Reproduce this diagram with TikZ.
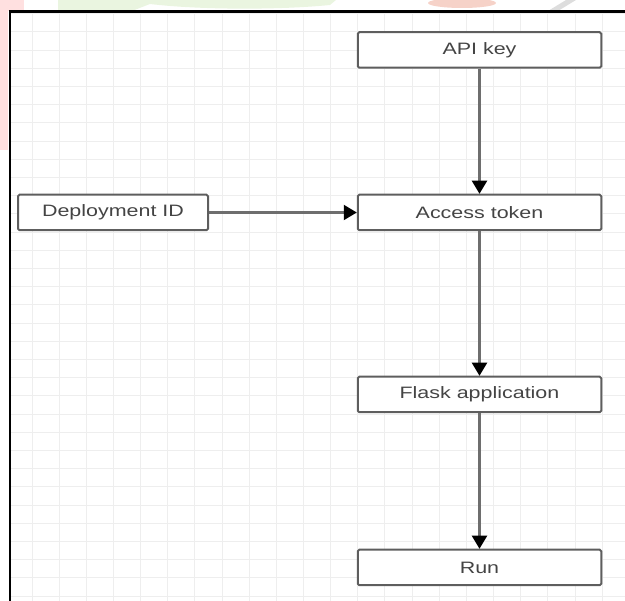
\documentclass[tikz,border=0pt]{standalone}
\usepackage{fontspec}
\setmainfont[FakeStretch=1.3]{Liberation Sans}
\usetikzlibrary{arrows.meta,positioning}
\definecolor{boxline}{HTML}{5E5E5E}
\definecolor{boxtext}{HTML}{444444}
\definecolor{linkline}{HTML}{6E6E6E}
\definecolor{gridline}{HTML}{EEEEEE}
\definecolor{wmred}{HTML}{FFE0E0}
\definecolor{wmgreen}{HTML}{EAF5E0}
\definecolor{wmsalmon}{HTML}{F6D2C8}
\definecolor{wmgray}{HTML}{DDDDDD}
\begin{document}
\begin{tikzpicture}
[x=1pt, y=1pt, node distance=162.5pt,
box/.style={draw=boxline, line width=2pt, rounded corners=1.5pt, fill=white,
  minimum width=243.5pt, minimum height=35.5pt, text=boxtext,
  font=\fontsize{16.5}{18}\selectfont},
link/.style={draw=linkline, line width=2.2pt,
  -{Triangle[width=15pt,length=13pt,color=black]}}]
\useasboundingbox (0,0) rectangle (625,-601);

% faint watermark above the frame
\fill[wmred] (0,0) rectangle (8,-150);
\fill[wmred] (0,0) rectangle (24,-11.5);
\fill[wmgreen] (58,0) -- (336,0) -- (330,-5) .. controls (280,-10) and (200,-10) .. (150,-4)
  -- (132,-11) -- (58,-11) -- cycle;
\fill[wmsalmon] (462,-3) ellipse (34pt and 5pt);
\fill[wmgray] (548,-11) -- (566,0) -- (576,0) -- (558,-11) -- cycle;

% grid
\begin{scope}
\clip (10,-11.5) rectangle (625,-601);
\draw[gridline, line width=1pt, shift={(4.85,-13.8)}]
  (-30,20) grid[xstep=27.15pt, ystep=18.2pt] (640,-610);
\end{scope}
\draw[line width=2.2pt] (625,-11.5) -- (10,-11.5) -- (10,-601);

\node[box] (k) at (479.5,-50) {API key};
\node[box, below of=k] (t) {Access token};
\node[box, below of=t, yshift=-19.5pt] (f) {Flask application};
\node[box, below of=f, yshift=-10.5pt] (r) {Run};
\node[box, left of=t, xshift=-204pt, minimum width=190pt] (d) {Deployment ID};

\draw[link] (k) -- (t);
\draw[link] (d) -- (t);
\draw[link] (t) -- (f);
\draw[link] (f) -- (r);
\end{tikzpicture}
\end{document}
